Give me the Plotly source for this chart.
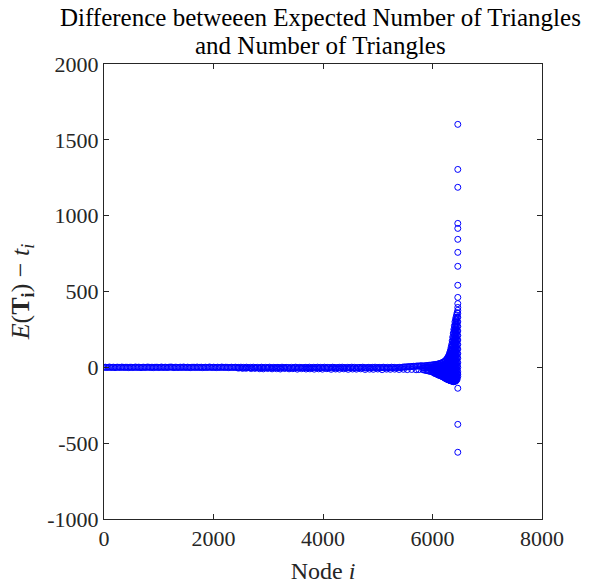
import plotly.graph_objects as go

# ---------------- data ----------------
# main band of nodes 1..~5800 (one point every 25 nodes), differences near zero
band_step = 25
band_values = [
    0, 1, -1, 0, 2, -1, 0, 1, -2, 0, 1, 0, -1, 2, 0, -1, 1, 0, -2, 1,
    0, -1, 0, 2, -1, 1, 0, -2, 0, 1, -1, 0, 2, 0, -1, 1, -2, 0, 1, 0,
    -1, 0, 2, -1, 0, 1, -1, 0, 1, 2, 0, -2, 1, 0, -1, 0, 1, -1, 2, 0,
    -1, 1, 0, -2, 0, 1, 0, -1, 2, -1, 0, 1, -2, 0, 1, -1, 0, 2, 0, -1,
    1, 0, -2, 1, 0, -1, 2, 0, -1, 1, 0, -2, 0, 1, -1, 0, 1,
    -1, 0, -3, 1, -2, 0, -4, 1, -1, -3, 0, -2, 1, -3, -1, 0, -4, -2, 1, -1,
    -3, 0, -2, -1, 1, -4, -2, 0, -3, -1, 0, -2, -4, 1, -1, -3, 0, -2, -1, -4,
    0, -3, -1, 1, -2, -4, 0, -1, -3, -2, 0, -1, -4, 1, -2, -3, 0, -1, -2, 1,
    -2, 0, -3, -1, 1, -4, 0, -2, -1, -3, 1, 0, -4, -2, -1, 0, -3, 1, -2, -1,
    -4, 0, -1, -3, 1, -2, 0, -4, -1, -2, 0, -3, 1, -1, -4, -2, 0, -1, -3, 0,
    -2, 1, -4, -1, 0, -3, -2, 1, -1, -4, 0, -2, -3, 1, -1, 0, -4, -2, -1, 0,
    -2,
    1, 2, 3, 2, 4, 5, 4, 6, 7, 6, 8, 9, 8, 10, 11,
]

# lighter lower fringe between nodes ~2450 and ~5750
fringe_nodes = [2450, 2530, 2600, 2690, 2760, 2840, 2910, 2990, 3070, 3150,
                3220, 3300, 3380, 3450, 3530, 3610, 3690, 3760, 3840, 3920,
                3990, 4070, 4150, 4230, 4300, 4380, 4460, 4540, 4610, 4690,
                4770, 4850, 4920, 5000, 5080, 5160, 5230, 5310, 5390, 5470,
                5540, 5620, 5700, 5750]
fringe_values = [-5, -7, -6, -8, -7, -9, -10, -8, -10, -9,
                 -11, -8, -10, -9, -12, -9, -11, -10, -12, -10,
                 -12, -9, -13, -11, -12, -10, -13, -11, -12, -10,
                 -14, -12, -13, -11, -15, -12, -13, -12, -14, -13,
                 -15, -14, -16, -15]

# widening tail of the highest-index nodes
tail_nodes = [5825, 5850, 5875, 5900, 5925, 5950, 5975, 6000, 6020, 6040,
              6060, 6080, 6100, 6120, 6140, 6160, 6180, 6200, 6215, 6230,
              6245, 6260, 6275, 6290, 6300, 6310, 6320, 6330, 6340, 6350,
              6360, 6370, 6380, 6390, 6400, 6410, 6420, 6430, 6440, 6450]
tail_values = [
    [8, -4, -16],
    [10, -3, -18],
    [11, 0, -20],
    [12, 0, -22],
    [13, -2, -24],
    [14, -2, -26],
    [15, 1, -14, -28],
    [16, 2, -12, -30],
    [17, 3, -12, -30, -36],
    [18, 4, -12, -30, -40],
    [19, 5, -10, -28, -42],
    [20, 5, -10, -28, -45],
    [22, 7, -9, -26, -46, -50],
    [24, 8, -8, -25, -45, -52],
    [26, 9, -8, -26, -46, -55],
    [28, 10, -8, -28, -48, -58],
    [32, 12, -6, -26, -46, -62],
    [35, 15, -5, -25, -45, -65],
    [38, 18, -2, -22, -42, -62, -68],
    [42, 20, 0, -20, -40, -62, -72],
    [48, 26, 5, -16, -38, -60, -75],
    [55, 32, 10, -12, -35, -58, -78],
    [63, 40, 17, -5, -28, -52, -75, -80],
    [72, 48, 25, 2, -22, -45, -68, -82],
    [80, 56, 32, 8, -16, -40, -64, -84],
    [90, 65, 40, 15, -10, -35, -60, -85],
    [102, 76, 50, 25, 0, -25, -50, -75, -87],
    [115, 88, 62, 36, 10, -15, -40, -65, -88],
    [132, 104, 76, 50, 24, -2, -28, -54, -80, -89],
    [150, 120, 92, 64, 36, 10, -16, -42, -68, -90],
    [175, 145, 116, 88, 60, 32, 5, -22, -48, -74, -91],
    [200, 170, 140, 110, 80, 52, 25, 0, -25, -50, -75, -92],
    [225, 195, 165, 135, 105, 76, 48, 21, -6, -32, -58, -84, -94],
    [250, 220, 190, 160, 130, 100, 72, 45, 18, -8, -34, -60, -85, -95],
    [275, 245, 215, 185, 155, 125, 96, 68, 40, 13, -13, -40, -66, -90],
    [300, 270, 240, 210, 180, 150, 120, 92, 64, 36, 10, -16, -42, -68, -90],
    [315, 285, 255, 225, 195, 165, 135, 106, 78, 50, 23, -3, -29, -55, -80, -92],
    [330, 300, 270, 240, 210, 180, 150, 120, 92, 64, 36, 10, -16, -42, -68, -88],
    [345, 315, 285, 255, 225, 195, 165, 135, 106, 78, 50, 23, -3, -29, -55, -78],
    [360, 330, 300, 270, 240, 210, 180, 150, 120, 92, 64, 36, 10, -16, -42, -68, -80],
]

# vertical spike of outliers
spike_node = 6462
spike_values = [1602, 1305, 1187, 949, 916, 844, 758, 666, 541, 461, 420, 395,
                376, 356, 330, 300, 270, 240, 210, 180, 150, 120, 90, 60, 30,
                0, -30, -46, -60, -138, -376, -560]

x_ticks = [0, 2000, 4000, 6000, 8000]
x_tick_text = ["0", "2000", "4000", "6000", "8000"]
y_ticks = [-1000, -500, 0, 500, 1000, 1500, 2000]
y_tick_text = ["-1000", "-500", "0", "500", "1000", "1500", "2000"]

title_lines = ["Difference betweeen Expected Number of Triangles",
               "and Number of Triangles"]

# ---------------- assemble points ----------------
xs, ys = [], []
for k, v in enumerate(band_values):
    xs.append(1 + band_step * k)
    ys.append(v)
xs += fringe_nodes
ys += fringe_values
for n, vals in zip(tail_nodes, tail_values):
    for v in vals:
        xs.append(n)
        ys.append(v)
for v in spike_values:
    xs.append(spike_node)
    ys.append(v)

FONT = "Liberation Serif"
AX = "#262626"

fig = go.Figure(go.Scatter(
    x=xs, y=ys, mode="markers",
    marker=dict(symbol="circle-open", size=6, color="#0000FF",
                line=dict(width=1, color="#0000FF")),
    showlegend=False,
))

axis_common = dict(
    showline=True, linecolor=AX, linewidth=1, mirror="allticks",
    ticks="inside", ticklen=5, tickcolor=AX, tickwidth=1,
    showgrid=False, zeroline=False, automargin=False,
    tickfont=dict(family=FONT, size=22, color=AX),
)

# plot area: x 104..542 px, y 64..519 px
PLOT_TOP, PLOT_BOTTOM = 64, 519
def py_to_paper(py):
    return (PLOT_BOTTOM - py) / (PLOT_BOTTOM - PLOT_TOP)

for text, py in zip(title_lines, [18, 46]):
    fig.add_annotation(text=text, xref="paper", yref="paper",
                       x=0.494, y=py_to_paper(py), xanchor="center", yanchor="middle",
                       showarrow=False,
                       font=dict(family=FONT, size=25, color="black"))

fig.update_layout(
    width=591, height=584,
    margin=dict(l=104, r=49, t=64, b=65),
    paper_bgcolor="white", plot_bgcolor="white",
    xaxis=dict(range=[0, 8000], tickvals=x_ticks, ticktext=x_tick_text,
               title=dict(text="Node <i>i</i>", standoff=12,
                          font=dict(family=FONT, size=24, color=AX)),
               **axis_common),
    yaxis=dict(range=[-1000, 2000], tickvals=y_ticks, ticktext=y_tick_text,
               title=dict(text="<i>E</i>(<b>T</b><sub><b>i</b></sub>) \u2212 <i>t</i><sub><i>i</i></sub>",
                          standoff=10,
                          font=dict(family=FONT, size=26, color=AX)),
               **axis_common),
)

fig.write_html("out.html")
